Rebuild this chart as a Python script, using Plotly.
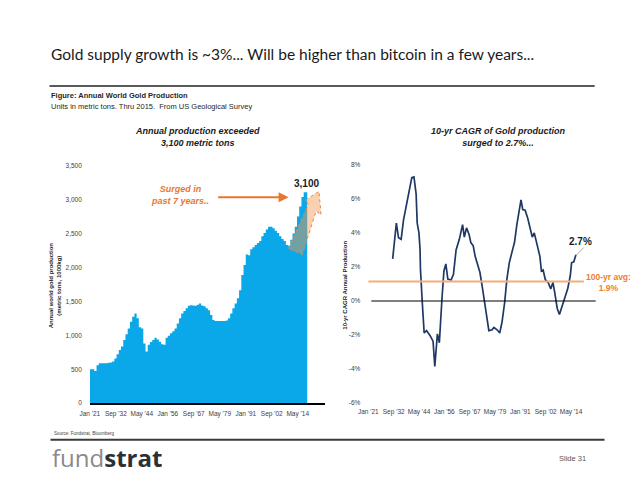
import plotly.graph_objects as go

# The page body has an 8px default margin, so the figure is sized to fit the
# 638x485 window and positions below are given in window pixels.
OFF = 8
W, H = 638 - OFF, 485 - OFF
def P(x): return (x - OFF) / W
def Q(y): return 1 - (y - OFF) / H

# ---------------- data ----------------
prod_years = list(range(1921, 2019))
prod_values = [500, 500, 475, 560, 590, 590, 590, 590, 595, 600,
               615, 660, 720, 785, 835, 930, 1015, 1100, 1200, 1275,
               1320, 1250, 1120, 1100, 880, 760, 860, 900, 930, 965,
               940, 905, 870, 860, 965, 995, 1030, 1060, 1100, 1175,
               1250, 1320, 1360, 1400, 1435, 1445, 1440, 1435, 1450, 1470,
               1440, 1430, 1400, 1370, 1300, 1225, 1210, 1210, 1210, 1210,
               1210, 1220, 1250, 1320, 1400, 1470, 1545, 1665, 1890, 2035,
               2190, 2180, 2270, 2300, 2330, 2360, 2390, 2460, 2510, 2560,
               2600, 2600, 2580, 2540, 2510, 2460, 2420, 2390, 2330, 2320,
               2410, 2500, 2600, 2750, 2900, 3040, 3110, 3110]

cagr_years = [1932.2, 1933.9, 1934.9, 1936.1, 1937.2, 1938.7, 1939.9, 1941.0, 1942.0, 1943.0,
              1943.5, 1944.3, 1944.8, 1945.0, 1945.8, 1946.7, 1947.8, 1949.3, 1950.8, 1951.6,
              1952.8, 1953.7, 1954.9, 1955.8, 1956.7, 1957.6, 1959.1, 1960.2, 1961.4, 1962.9,
              1964.4, 1965.2, 1966.2, 1967.4, 1968.2, 1969.3, 1970.2, 1971.2, 1972.4, 1973.5,
              1974.6, 1975.8, 1976.5, 1978.0, 1978.8, 1980.3, 1981.5, 1982.6, 1983.8, 1984.8,
              1985.9, 1987.4, 1988.3, 1989.4, 1990.4, 1991.3, 1992.1, 1993.2, 1994.4, 1995.4,
              1996.5, 1997.4, 1998.2, 1999.2, 2000.0, 2000.7, 2001.5, 2002.5, 2003.8, 2005.0,
              2006.0, 2006.8, 2008.0, 2009.0, 2010.1, 2011.3, 2012.8, 2014.0, 2014.6, 2015.6,
              2016.6]
cagr_values = [2.47, 4.57, 3.71, 3.62, 4.76, 5.81, 6.57, 7.24, 7.28, 6.29,
               4.57, 4.0, 3.05, 1.86, 0.0, -1.88, -1.74, -2.01, -2.36, -3.85,
               -1.93, -2.45, 0.13, 1.76, 2.18, 1.28, 1.23, 1.57, 3.0, 3.62,
               4.48, 3.75, 4.29, 3.9, 3.43, 3.24, 2.62, 2.24, 1.67, 0.8,
               -0.06, -1.11, -1.74, -1.69, -1.55, -1.69, -1.88, -1.21, -0.06, 1.28,
               2.24, 3.0, 3.43, 4.48, 5.33, 5.94, 5.37, 5.33, 4.86, 4.29,
               3.75, 4.0, 3.62, 3.14, 2.62, 1.76, 1.82, 1.25, 1.09, 0.71,
               1.09, 0.52, -0.44, -0.79, -0.34, 0.13, 0.71, 1.48, 2.24, 2.3,
               2.72]

avg_line_value = 1.15
tick_vals_x = [1921.0, 1932.67, 1944.33, 1956.0, 1967.67, 1979.33, 1991.0, 2002.67, 2014.33]
tick_text_x = ["Jan '21", "Sep '32", "May '44", "Jan '56", "Sep '67", "May '79", "Jan '91", "Sep '02", "May '14"]
prod_ticks = [0, 500, 1000, 1500, 2000, 2500, 3000, 3500]
prod_tick_text = ["0", "500", "1,000", "1,500", "2,000", "2,500", "3,000", "3,500"]
cagr_ticks = [-6, -4, -2, 0, 2, 4, 6, 8]
cagr_tick_text = ["-6%", "-4%", "-2%", "0%", "2%", "4%", "6%", "8%"]

# ---------------- styles ----------------
ARIAL = "Liberation Sans, Arial, sans-serif"
BLUE = "#0AA8E8"
NAVY = "#1F3864"
ORANGE = "#E8772E"
XR = [1921, 2026.6]

fig = go.Figure()
fig.add_trace(go.Scatter(x=prod_years + [2018.6], y=prod_values + [prod_values[-1]],
                         mode="lines", line=dict(shape="hv", width=0, color=BLUE),
                         fill="tozeroy", fillcolor=BLUE, xaxis="x", yaxis="y",
                         hoverinfo="skip", showlegend=False))
fig.add_trace(go.Scatter(x=cagr_years, y=cagr_values, mode="lines",
                         line=dict(color=NAVY, width=1.7), xaxis="x2", yaxis="y2",
                         showlegend=False))

tickfont = dict(family=ARIAL, size=6.5, color="#404040")
fig.update_layout(
    width=W, height=H, margin=dict(l=0, r=0, t=0, b=0),
    paper_bgcolor="white", plot_bgcolor="white",
    xaxis=dict(domain=[P(81), P(320)], range=XR, tickvals=tick_vals_x, ticktext=tick_text_x,
               showgrid=False, zeroline=False, showline=True, linecolor="black", linewidth=1.5,
               ticks="", tickfont=tickfont, ticklabelstandoff=3, tickangle=0),
    yaxis=dict(domain=[Q(405), Q(164)], range=[0, 3500], tickvals=prod_ticks, ticktext=prod_tick_text,
               showgrid=False, zeroline=False, showline=False, ticks="", tickfont=tickfont,
               ticklabelstandoff=7),
    xaxis2=dict(domain=[P(364), P(597)], range=XR, tickvals=tick_vals_x, ticktext=tick_text_x,
                showgrid=False, zeroline=False, showline=False, ticks="", tickfont=tickfont,
                anchor="y2", ticklabelstandoff=3, tickangle=0),
    yaxis2=dict(domain=[Q(405), Q(163)], range=[-6, 8], tickvals=cagr_ticks, ticktext=cagr_tick_text,
                showgrid=False, zeroline=False, showline=False, ticks="", tickfont=tickfont,
                anchor="x2", ticklabelstandoff=7),
)

shapes = []
shapes.append(dict(type="line", xref="paper", yref="paper", x0=P(40), x1=P(594), y0=Q(83), y1=Q(83),
                   line=dict(color="#595959", width=2)))
shapes.append(dict(type="line", xref="paper", yref="paper", x0=P(41), x1=P(604), y0=Q(442), y1=Q(442),
                   line=dict(color="#3a3a3a", width=2)))
shapes.append(dict(type="line", xref="paper", yref="y2", x0=P(367), x1=P(595), y0=0, y1=0,
                   line=dict(color="black", width=1.2)))
shapes.append(dict(type="line", xref="paper", yref="y2", x0=P(364), x1=P(583),
                   y0=avg_line_value, y1=avg_line_value, line=dict(color="#F2AE7E", width=2)))
shapes.append(dict(type="line", xref="paper", yref="paper", x0=P(575), y0=Q(255), x1=P(583), y1=Q(247),
                   line=dict(color="#9a9a9a", width=0.8)))
arrow_pts = [(2010.2, 2280), (2019.1, 2933), (2017.7, 2992), (2023.9, 3122),
             (2024.8, 2774), (2022.6, 2832), (2016.4, 2193)]
path = "M " + " L ".join(f"{x},{y}" for x, y in arrow_pts) + " Z"
shapes.append(dict(type="path", xref="x", yref="y", path=path,
                   fillcolor="rgba(245,150,80,0.45)", line=dict(color="#E9853F", width=1, dash="dot")))
fig.update_layout(shapes=shapes)

ann = []
def text(x, y, t, size, color="#1a1a1a", family=ARIAL, xanchor="center", yanchor="middle", angle=0):
    ann.append(dict(x=P(x), y=Q(y), xref="paper", yref="paper", text=t, showarrow=False,
                    xanchor=xanchor, yanchor=yanchor, textangle=angle,
                    font=dict(size=size, color=color, family=family)))

text(39, 51, "Gold supply growth is ~3%... Will be higher than bitcoin in a few years...", 15.5,
     color="#1a1a1a", family="Lato, Liberation Sans, sans-serif", xanchor="left")
text(39, 93, "<b>Figure: Annual World Gold Production</b>", 7.5, color="#262626", xanchor="left")
text(39, 104, "Units in metric tons. Thru 2015.  From US Geological Survey", 7.5, color="#262626",
     xanchor="left")
text(190, 134.5, "<b><i>Annual production exceeded<br>3,100 metric tons</i></b>", 9)
text(496, 134.5, "<b><i>10-yr CAGR of Gold production<br>surged to 2.7%...</i></b>", 9)
text(173, 194, "<b><i>Surged in<br>past 7 years..</i></b>", 9, color=ORANGE)
text(301, 182, "<b>3,100</b>", 10)
text(580, 241, "<b>2.7%</b>", 10)
text(608, 283, "<b>100-yr avg:<br>1.9%</b>", 8.5, color="#ED7D31")
text(46, 285, "<b>Annual world gold production<br>(metric tons, 1000kg)</b>", 6, angle=-90)
text(340, 285, "<b>10-yr CAGR Annual Production</b>", 6, angle=-90)
text(43, 436, "Source: Fundstrat, Bloomberg", 4.5, color="#404040", xanchor="left")
text(41, 460, '<span style="color:#8a8a8a">fund</span><b style="color:#2b2f36">strat</b>', 24,
     family="Open Sans, sans-serif", xanchor="left")
text(571, 461, "Slide 31", 7.5, color="#595959")
fig.update_layout(annotations=ann)

fig.add_annotation(x=P(283), y=Q(196), xref="paper", yref="paper", ax=-72, ay=0, axref="pixel", ayref="pixel",
                   text="", showarrow=True, arrowhead=2, arrowsize=1, arrowwidth=2, arrowcolor=ORANGE)

fig.write_html("out.html")
